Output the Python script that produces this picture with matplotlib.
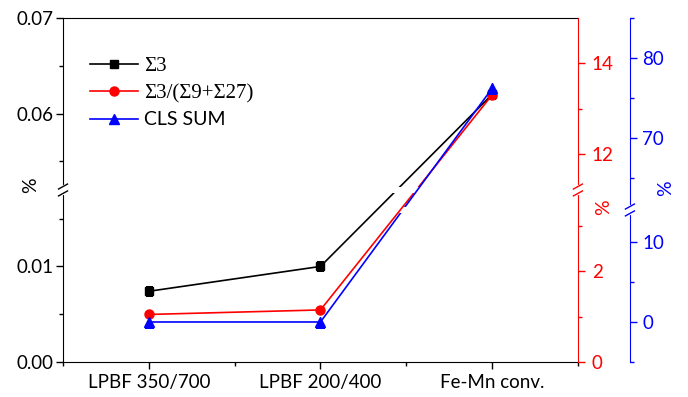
import numpy as np
import matplotlib
matplotlib.use("Agg")
import matplotlib.pyplot as plt
from matplotlib.path import Path
from matplotlib.ticker import FixedLocator, FormatStrFormatter

# ---------------- data ----------------
categories = ["LPBF 350/700", "LPBF 200/400", "Fe-Mn conv."]
sigma3 = [0.0074, 0.0100, 0.0620]          # left axis
sigma3_ratio = [1.05, 1.15, 13.3]          # red axis
cls_sum = [0.0, 0.0, 76.2]                 # blue axis

# broken ranges (lower start, lower end, upper start, upper end)
left_range = (0.0, 0.018, 0.052, 0.07)
red_range = (0.0, 3.8, 11.2, 15.0)
blue_range = (-5.0, 14.0, 61.0, 85.0)

left_major, left_minor = [0.0, 0.01, 0.06, 0.07], [0.005, 0.015, 0.055, 0.065]
red_major, red_minor = [0, 2, 12, 14], [1, 3, 13]
blue_major, blue_minor = [0, 10, 70, 80], [-5, 5, 65, 75, 85]

RED = "#ff0000"
BLUE = "#0000ff"
plt.rcParams["font.family"] = ["Lato", "DejaVu Sans"]


def broken_scale(a, b, c, d):
    """Piecewise linear scale: [a,b] and [c,d] stacked with the gap cut out."""
    total = (b - a) + (d - c)

    def fwd(y):
        y = np.asarray(y, dtype=float)
        return np.where(y <= b, (y - a) / total,
                        np.where(y >= c, (b - a + y - c) / total, (b - a) / total))

    def inv(f):
        v = np.asarray(f, dtype=float) * total
        return np.where(v <= b - a, a + v, c + v - (b - a))

    return fwd, inv, (b - a) / total


def gap_clip(artist, ax, fb, h=0.018):
    # clip away a thin band at the break, like Origin does
    lo, hi = fb - h / 2, fb + h / 2
    verts = [(-1, -1), (2, -1), (2, lo), (-1, lo), (-1, -1),
             (-1, hi), (2, hi), (2, 2), (-1, 2), (-1, hi)]
    codes = [Path.MOVETO, Path.LINETO, Path.LINETO, Path.LINETO, Path.CLOSEPOLY] * 2
    artist.set_clip_path(Path(verts, codes), ax.transAxes)


def axis_break(ax, xpos, fb, color, h=0.02):
    dx, dy = 4.5 / 515, 2.5 / 344
    ax.plot([xpos, xpos], [fb - h / 2, fb + h / 2], color="white", lw=3,
            transform=ax.transAxes, clip_on=False, zorder=20)
    for yy in (fb - h / 2, fb + h / 2):
        ax.plot([xpos - dx, xpos + dx], [yy - dy, yy + dy], color=color, lw=1,
                transform=ax.transAxes, clip_on=False, zorder=21)


fig, ax = plt.subplots(figsize=(6.88, 3.97), dpi=100)
fig.subplots_adjust(left=0.0916, right=0.840, bottom=0.0882, top=0.9547)
ax2 = ax.twinx()
ax3 = ax.twinx()
ax3.spines["right"].set_position(("axes", 1.101))

x = np.arange(1, len(categories) + 1)

# ---------------- series ----------------
setups = [
    (ax, left_range, sigma3, "black", "s", 6, r"Σ3"),
    (ax2, red_range, sigma3_ratio, RED, "o", 6.5, r"Σ3/(Σ9+Σ27)"),
    (ax3, blue_range, cls_sum, BLUE, "^", 7, "CLS SUM"),
]
handles = []
breaks = []
for a, rng, vals, col, mk, ms, lab in setups:
    fwd, inv, fb = broken_scale(*rng)
    a.set_yscale("function", functions=(fwd, inv))
    a.set_ylim(rng[0], rng[3])
    line, = a.plot(x, vals, color=col, marker=mk, ms=ms, lw=1.2, label=lab)
    gap_clip(line, a, fb)
    handles.append(line)
    breaks.append(fb)

ax.set_xlim(0.5, 3.5)
ax.set_xticks(x)
ax.set_xticklabels(categories)
ax.xaxis.set_minor_locator(FixedLocator([0.5, 1.5, 2.5, 3.5]))

# ---------------- axes styling ----------------
ax.spines["right"].set_visible(False)
for a in (ax2, ax3):
    for s in ("top", "left", "bottom"):
        a.spines[s].set_visible(False)
ax2.spines["right"].set_color(RED)
ax3.spines["right"].set_color(BLUE)

ax.yaxis.set_major_locator(FixedLocator(left_major))
ax.yaxis.set_minor_locator(FixedLocator(left_minor))
ax.yaxis.set_major_formatter(FormatStrFormatter("%.2f"))
ax2.yaxis.set_major_locator(FixedLocator(red_major))
ax2.yaxis.set_minor_locator(FixedLocator(red_minor))
ax2.yaxis.set_major_formatter(FormatStrFormatter("%d"))
ax3.yaxis.set_major_locator(FixedLocator(blue_major))
ax3.yaxis.set_minor_locator(FixedLocator(blue_minor))
ax3.yaxis.set_major_formatter(FormatStrFormatter("%d"))

ax.tick_params(axis="both", which="major", direction="out", length=5, width=1, labelsize=13.5)
ax.tick_params(axis="both", which="minor", direction="out", length=3, width=1)
ax.tick_params(axis="y", pad=2)
ax.tick_params(axis="x", pad=4)
ax2.tick_params(axis="y", which="both", colors=RED, direction="out", width=1)
ax2.tick_params(axis="y", which="major", length=5, labelsize=13.5, pad=5)
ax2.tick_params(axis="y", which="minor", length=3)
ax3.tick_params(axis="y", which="both", colors=BLUE, direction="out", width=1)
ax3.tick_params(axis="y", which="major", length=5, labelsize=13.5, pad=4)
ax3.tick_params(axis="y", which="minor", length=3)

ax.set_ylabel("%", fontsize=14)
ax2.set_ylabel("%", fontsize=14, color=RED, rotation=90)
ax3.set_ylabel("%", fontsize=14, color=BLUE, rotation=90)
ax.yaxis.set_label_coords(-0.047, 0.515)
ax2.yaxis.set_label_coords(1.033, 0.45)
ax3.yaxis.set_label_coords(1.153, 0.506)

axis_break(ax, 0, breaks[0], "black")
axis_break(ax2, 1, breaks[1], RED)
axis_break(ax3, 1.101, breaks[2], BLUE)

leg = ax3.legend(handles=handles, loc="upper left", bbox_to_anchor=(0.052, 0.887),
                 frameon=False, fontsize=14, handlelength=2.5, handletextpad=0.3,
                 labelspacing=0.42, borderpad=0, borderaxespad=0)
for t in leg.get_texts()[:2]:
    t.set_fontfamily(["Liberation Serif", "DejaVu Serif"])
    t.set_fontsize(15)

fig.savefig("out.png", dpi=100)
